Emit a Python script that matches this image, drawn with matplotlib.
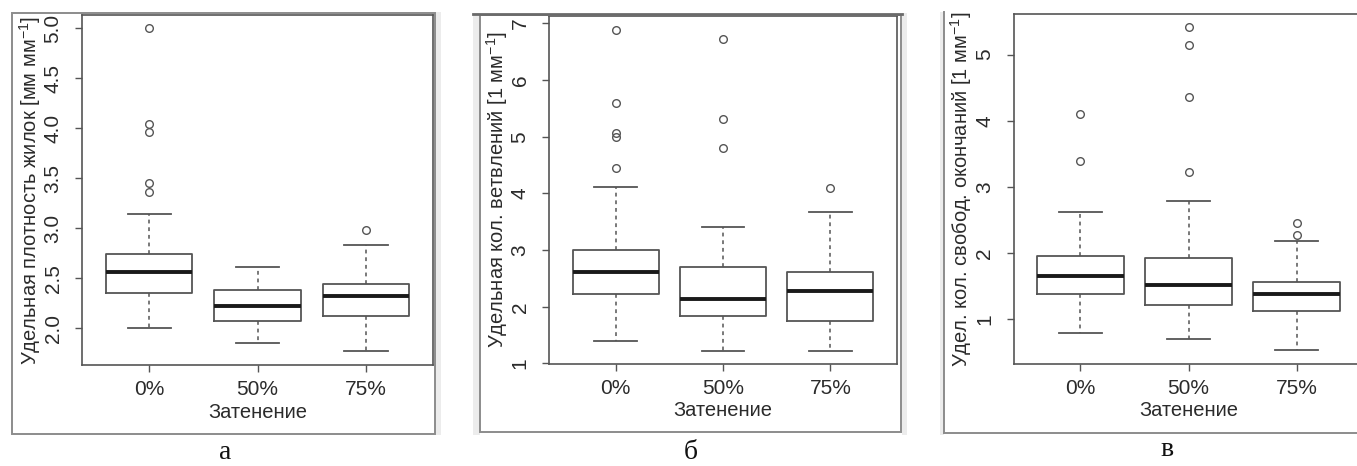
import matplotlib
matplotlib.use('Agg')
from matplotlib import pyplot as plt
from matplotlib import patches, transforms
import numpy as np

'''
    Three boxplots of leaf venation traits vs. shading level
'''

plt.rcParams['font.family'] = ['Liberation Sans', 'DejaVu Sans']
plt.rcParams['mathtext.fontset'] = 'custom'
plt.rcParams['mathtext.rm'] = 'Liberation Sans'
plt.rcParams['mathtext.it'] = 'Liberation Sans'

categories = ['0%', '50%', '75%']
x_title = 'Затенение'

# panel a - vein density
a_med = [2.56, 2.22, 2.32]
a_q1 = [2.35, 2.07, 2.12]
a_q3 = [2.74, 2.38, 2.44]
a_lo = [2.00, 1.85, 1.77]
a_hi = [3.14, 2.61, 2.83]
a_out = [[3.36, 3.45, 3.96, 4.04, 5.00], [], [2.98]]

# panel b - branching points
b_med = [2.61, 2.14, 2.27]
b_q1 = [2.22, 1.84, 1.74]
b_q3 = [3.01, 2.71, 2.61]
b_lo = [1.39, 1.22, 1.22]
b_hi = [4.11, 3.40, 3.67]
b_out = [[4.45, 4.99, 5.07, 5.59, 6.89], [4.80, 5.32, 6.72], [4.10]]

# panel c - free vein endings
c_med = [1.65, 1.52, 1.39]
c_q1 = [1.39, 1.22, 1.13]
c_q3 = [1.96, 1.92, 1.56]
c_lo = [0.79, 0.70, 0.53]
c_hi = [2.62, 2.79, 2.19]
c_out = [[3.40, 4.10], [3.23, 4.36, 5.15, 5.42], [2.27, 2.45]]

W, H = 1357, 466
TXT = '#2b2b2b'
LINE = '#555555'
FRAME = '#8c8c8c'
BAND = '#ececec'


def fx(x):
    return x / W


def fy(y):
    return 1 - y / H


def make_stats(med, q1, q3, lo, hi, out):
    stats = []
    for i in range(len(med)):
        stats.append({'med': med[i], 'q1': q1[i], 'q3': q3[i],
                      'whislo': lo[i], 'whishi': hi[i], 'fliers': out[i]})
    return stats


def draw_panel(fig, box_px, stats, ylim, yticks, ylab_fmt, ylabel):
    left, top, right, bottom = box_px
    ax = fig.add_axes([fx(left), fy(bottom), (right - left) / W, (bottom - top) / H])
    ax.bxp(stats, positions=[1, 2, 3], widths=0.8, capwidths=0.4,
           showfliers=True, manage_ticks=False,
           boxprops=dict(color=LINE, linewidth=1.3),
           whiskerprops=dict(color=LINE, linewidth=1.1, linestyle=(0, (2.5, 2.5))),
           capprops=dict(color=LINE, linewidth=1.3),
           medianprops=dict(color='#1a1a1a', linewidth=2.8),
           flierprops=dict(marker='o', markersize=5.5, markerfacecolor='none',
                           markeredgecolor=LINE, markeredgewidth=1.0, linestyle='none'))
    ax.set_xlim(0.38, 3.62)
    ax.set_ylim(*ylim)
    ax.set_xticks([1, 2, 3])
    ax.set_xticklabels(categories)
    ax.set_yticks(yticks)
    ax.set_yticklabels([ylab_fmt.format(v) for v in yticks])
    for lab in ax.get_yticklabels():
        lab.set_rotation(90)
        lab.set_va('center')
    ax.tick_params(axis='both', colors=LINE, labelcolor=TXT, labelsize=15,
                   length=5, width=1.0)
    ax.tick_params(axis='y', pad=9)
    ax.tick_params(axis='x', pad=6)
    for sp in ax.spines.values():
        sp.set_color(LINE)
        sp.set_linewidth(1.2)
    ax.set_facecolor('white')
    off_y = transforms.offset_copy(ax.transAxes, fig, x=-52, y=0, units='dots')
    ax.text(0, 0.5, ylabel, transform=off_y, rotation=90, ha='center', va='center',
            fontsize=14.5, color=TXT)
    off_x = transforms.offset_copy(ax.transAxes, fig, x=0, y=-47, units='dots')
    ax.text(0.5, 0, x_title, transform=off_x, ha='center', va='center',
            fontsize=14.5, color=TXT)
    return ax


fig = plt.figure(figsize=(W / 100, H / 100), dpi=100)


def rect(x0, y0, x1, y1, **kw):
    fig.patches.append(patches.Rectangle((fx(x0), fy(y1)), fx(x1) - fx(x0), (y1 - y0) / H,
                                         transform=fig.transFigure, **kw))


def hline(x0, x1, y, **kw):
    fig.add_artist(plt.Line2D([fx(x0), fx(x1)], [fy(y), fy(y)], transform=fig.transFigure, **kw))


def vline(x, y0, y1, **kw):
    fig.add_artist(plt.Line2D([fx(x), fx(x)], [fy(y0), fy(y1)], transform=fig.transFigure, **kw))


# screenshot frames around each panel
rect(435, 12, 441, 435, facecolor=BAND, edgecolor='none')
rect(473, 13, 480, 435, facecolor=BAND, edgecolor='none')
rect(902, 13, 907, 435, facecolor=BAND, edgecolor='none')
rect(940, 12, 944, 435, facecolor=BAND, edgecolor='none')
rect(12, 12.5, 435, 434, facecolor='none', edgecolor=FRAME, linewidth=1.4)
hline(473, 902, 13.5, color='#6a6a6a', linewidth=2.0)
rect(480, 15, 901, 432, facecolor='none', edgecolor=FRAME, linewidth=1.4)
vline(944, 12, 433, color=FRAME, linewidth=1.4)
hline(944, W, 433, color=FRAME, linewidth=1.4)

draw_panel(fig, (82, 15, 433, 365), make_stats(a_med, a_q1, a_q3, a_lo, a_hi, a_out),
           (1.635, 5.133), [2.0, 2.5, 3.0, 3.5, 4.0, 4.5, 5.0], '{:.1f}',
           'Удельная плотность жилок [мм мм$^{-1}$]')
draw_panel(fig, (549, 16, 897, 364), make_stats(b_med, b_q1, b_q3, b_lo, b_hi, b_out),
           (0.99, 7.13), [1, 2, 3, 4, 5, 6, 7], '{:d}',
           'Удельная кол. ветвлений [1 мм$^{-1}$]')
draw_panel(fig, (1013.5, 14, 1363.5, 364), make_stats(c_med, c_q1, c_q3, c_lo, c_hi, c_out),
           (0.325, 5.614), [1, 2, 3, 4, 5], '{:d}',
           'Удел. кол. свобод. окончаний [1 мм$^{-1}$]')

for x, y, s in [(225, 459, 'а'), (691, 459, 'б'), (1167, 456, 'в')]:
    fig.text(fx(x), fy(y), s, ha='center', va='baseline', fontsize=20,
             family=['Liberation Serif', 'DejaVu Serif'], color='#111111')

fig.savefig('out.png', dpi=100, facecolor='white')
